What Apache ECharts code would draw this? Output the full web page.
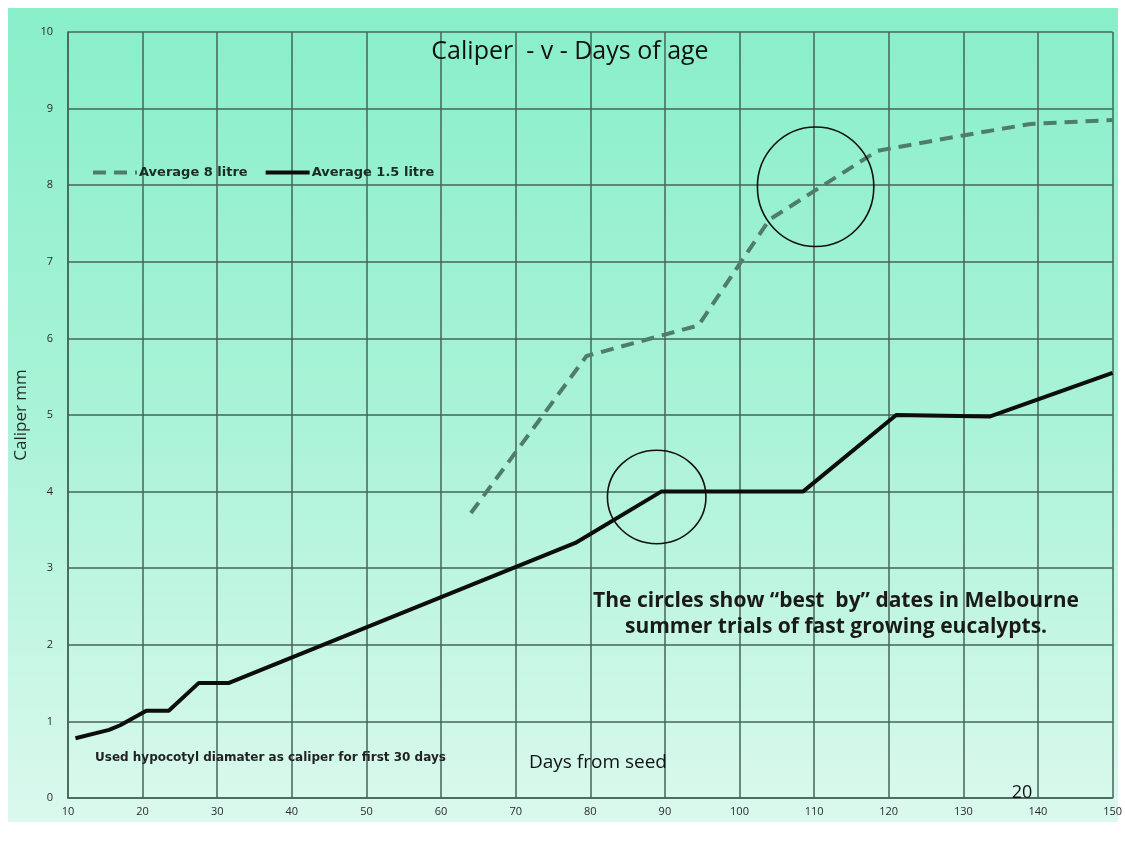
<!DOCTYPE html>
<html>
<head>
<meta charset="utf-8">
<title>Caliper - v - Days of age</title>
<script src="https://cdn.jsdelivr.net/npm/echarts@6/dist/echarts.min.js"></script>
<style>
    html, body { margin: 0; padding: 0; background: #fff; }
    #chart { width: 1125px; height: 844px; }
</style>
</head>
<body>
<div id="chart"></div>
<script>
    // Average 8 litre (dashed)
    var days8 = [64, 79.5, 90, 94.5, 104, 118.5, 130, 139, 150];
    var caliper8 = [3.72, 5.77, 6.05, 6.17, 7.55, 8.45, 8.65, 8.8, 8.85];

    // Average 1.5 litre (solid)
    var days15 = [11, 15.5, 17, 20.5, 23.5, 27.5, 31.5, 78, 89.5, 108.5, 121, 133.5, 150];
    var caliper15 = [0.78, 0.89, 0.95, 1.14, 1.14, 1.5, 1.5, 3.33, 4.0, 4.0, 5.0, 4.98, 5.55];

    // "best by" circles: centre day, centre caliper, half width (days), half height (mm)
    var circleDays = [110.2, 88.9];
    var circleCaliper = [7.98, 3.93];
    var circleHalfDays = [7.8, 6.6];
    var circleHalfCaliper = [0.78, 0.61];

    var dayTicks = { min: 10, max: 150, step: 10 };
    var caliperTicks = { min: 0, max: 10, step: 1 };

    var font = '"Open Sans", Lato, sans-serif';
    var gridColor = '#46655a';

    var pairs = function (xs, ys) {
        return xs.map(function (x, i) {
            return [x, ys[i]];
        });
    };

    var circles = circleDays.map(function (d, i) {
        return [d, circleCaliper[i], circleHalfDays[i], circleHalfCaliper[i]];
    });

    var renderEllipse = function (params, api) {
        var c = api.coord([api.value(0), api.value(1)]);
        var e = api.coord([api.value(0) + api.value(2), api.value(1) + api.value(3)]);
        var rx = e[0] - c[0];
        var ry = c[1] - e[1];
        var d = 'M' + (c[0] - rx) + ' ' + c[1] +
            ' A' + rx + ' ' + ry + ' 0 1 0 ' + (c[0] + rx) + ' ' + c[1] +
            ' A' + rx + ' ' + ry + ' 0 1 0 ' + (c[0] - rx) + ' ' + c[1] + ' Z';
        return {
            type: 'path',
            shape: { pathData: d },
            style: { fill: 'none', stroke: '#111', lineWidth: 1.6 }
        };
    };

    var chart = echarts.init(document.getElementById('chart'));

    var option = {
        backgroundColor: '#fff',
        animation: false,
        textStyle: { fontFamily: font },
        grid: {
            left: 68,
            top: 32,
            width: 1045,
            height: 766
        },
        legend: {
            data: ['Average 8 litre', 'Average 1.5 litre'],
            left: 86,
            top: 161,
            itemWidth: 44,
            itemHeight: 14,
            itemGap: 16,
            itemStyle: { opacity: 0 },
            lineStyle: { width: 4 },
            textStyle: { fontFamily: '"DejaVu Sans", sans-serif', fontSize: 13, fontWeight: 'bold', color: '#1c2b24', padding: [0, 0, 0, -3] }
        },
        xAxis: {
            type: 'value',
            min: dayTicks.min,
            max: dayTicks.max,
            interval: dayTicks.step,
            axisLine: { lineStyle: { color: gridColor, width: 1.5 } },
            axisTick: { show: false },
            axisLabel: { color: '#2a2a2a', fontSize: 11, margin: 8 },
            splitLine: { show: true, lineStyle: { color: gridColor, width: 1.5 } }
        },
        yAxis: {
            type: 'value',
            min: caliperTicks.min,
            max: caliperTicks.max,
            interval: caliperTicks.step,
            name: 'Caliper mm',
            nameLocation: 'middle',
            nameGap: 31,
            nameTextStyle: { fontSize: 17, color: '#1c2b24' },
            axisLine: { show: true, lineStyle: { color: gridColor, width: 1.5 } },
            axisTick: { show: false },
            axisLabel: { color: '#2a2a2a', fontSize: 11, margin: 15 },
            splitLine: { show: true, lineStyle: { color: gridColor, width: 1.5 } }
        },
        graphic: [
            {
                // green slide background
                type: 'rect',
                z: -10,
                shape: { x: 8, y: 8, width: 1110, height: 814 },
                style: {
                    fill: new echarts.graphic.LinearGradient(0, 0, 0, 1, [
                        { offset: 0, color: '#88efc9' },
                        { offset: 0.5, color: '#a9f3d7' },
                        { offset: 1, color: '#dbf9ee' }
                    ])
                }
            },
            {
                type: 'text', z: 100, x: 570, y: 52,
                style: { text: 'Caliper  - v - Days of age', font: '25px ' + font, fill: '#111', align: 'center', verticalAlign: 'middle' }
            },
            {
                type: 'text', z: 100, x: 836, y: 601,
                style: { text: 'The circles show \u201cbest  by\u201d dates in Melbourne', font: 'bold 21px ' + font, fill: '#1a1a1a', align: 'center', verticalAlign: 'middle' }
            },
            {
                type: 'text', z: 100, x: 836, y: 627,
                style: { text: 'summer trials of fast growing eucalypts.', font: 'bold 21px ' + font, fill: '#1a1a1a', align: 'center', verticalAlign: 'middle' }
            },
            {
                type: 'text', z: 100, x: 598, y: 763,
                style: { text: 'Days from seed', font: '19px ' + font, fill: '#111', align: 'center', verticalAlign: 'middle' }
            },
            {
                type: 'text', z: 100, x: 95, y: 758,
                style: { text: 'Used hypocotyl diamater as caliper for first 30 days', font: 'bold 12px "DejaVu Sans", sans-serif', fill: '#222', align: 'left', verticalAlign: 'middle' }
            },
            {
                type: 'text', z: 100, x: 1022, y: 793,
                style: { text: '20', font: '18px ' + font, fill: '#111', align: 'center', verticalAlign: 'middle' }
            }
        ],
        series: [
            {
                name: 'Average 8 litre',
                type: 'line',
                symbol: 'none',
                data: pairs(days8, caliper8),
                itemStyle: { color: '#4f7c6b' },
                lineStyle: { color: '#4f7c6b', width: 4, type: [13, 8] },
                z: 3
            },
            {
                name: 'Average 1.5 litre',
                type: 'line',
                symbol: 'none',
                data: pairs(days15, caliper15),
                itemStyle: { color: '#0d0d0d' },
                lineStyle: { color: '#0d0d0d', width: 4 },
                z: 4
            },
            {
                name: 'best by',
                type: 'custom',
                renderItem: renderEllipse,
                data: circles,
                encode: { x: 0, y: 1 },
                silent: true,
                clip: false,
                z: 5
            }
        ]
    };

    chart.setOption(option);
</script>
</body>
</html>
